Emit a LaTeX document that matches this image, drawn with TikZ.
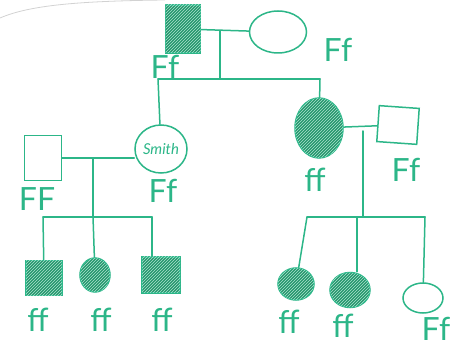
\documentclass[tikz,border=0pt]{standalone}
\usepackage{fontspec}
\setmainfont{Lato}
\usetikzlibrary{shapes.geometric,patterns}
\definecolor{pen}{RGB}{44,182,136}
\definecolor{penfill}{RGB}{38,150,108}
\tikzset{
  x=1pt, y=-1pt,
  line/.style={draw=pen, line width=1.5pt, line cap=round, line join=round},
  male/.style={rectangle, draw=pen, line width=1.5pt, inner sep=0pt},
  female/.style={ellipse, draw=pen, line width=1.5pt, inner sep=0pt},
  affected/.style={fill=penfill, postaction={pattern=north east lines, pattern color=pen!40}},
  geno/.style={text=pen, font=\fontsize{32}{32}\selectfont, inner sep=0pt},
}
\begin{document}
\begin{tikzpicture}
\useasboundingbox (0,0) rectangle (474,347);
% stray pencil arc
\draw[gray!35, line width=0.8pt] (0,18) .. controls (30,5) and (80,1) .. (165,0);

% Generation I
\node[male, affected, minimum width=35pt, minimum height=48pt] (s1) at (183,29) {};
\node[female, minimum width=57pt, minimum height=42pt] (c1) at (278,32) {};
\node[geno] (ls1) at (165,67) {Ff};
\node[geno] (lc1) at (338,50) {Ff};
\coordinate (m1) at (220,31);
\coordinate (d1) at (220,79);
\coordinate (j1L) at (158,79);
\coordinate (j1R) at (320,79);

% Generation II
\node[male, minimum width=37pt, minimum height=45pt] (h2) at (43,158) {};
\node[female, minimum width=52pt, minimum height=48pt, text=pen, font=\itshape\fontsize{15}{15}\selectfont] (smith) at (161,149) {Smith};
\node[female, affected, minimum width=48pt, minimum height=60pt] (a2) at (319,128) {};
\node[male, minimum width=40pt, minimum height=36pt, rotate=-4] (h3) at (398,125) {};
\node[geno] (lh2) at (37,199) {FF};
\node[geno] (lsmith) at (163,191) {Ff};
\node[geno] (la2) at (315,180) {ff};
\node[geno] (lh3) at (406,170) {Ff};
\coordinate (m2) at (93,158);
\coordinate (d2) at (93,217);
\coordinate (j2a) at (43,217);
\coordinate (j2b) at (93,217);
\coordinate (j2c) at (152,217);
\coordinate (m3) at (363,131);
\coordinate (d3) at (363,217);
\coordinate (j3a) at (307,217);
\coordinate (j3b) at (357,217);
\coordinate (j3c) at (425,217);

% Generation III
\node[male, affected, minimum width=36pt, minimum height=35pt] (k1) at (44,278) {};
\node[female, affected, minimum width=30pt, minimum height=34pt] (k2) at (95,275) {};
\node[male, affected, minimum width=38pt, minimum height=36pt] (k3) at (161,275) {};
\node[geno] (lk1) at (38,320) {ff};
\node[geno] (lk2) at (101,320) {ff};
\node[geno] (lk3) at (162,320) {ff};
\node[female, affected, minimum width=36pt, minimum height=32pt] (r1) at (296,284) {};
\node[female, affected, minimum width=40pt, minimum height=35pt] (r2) at (350,290) {};
\node[female, minimum width=40pt, minimum height=30pt] (r3) at (423,298) {};
\node[geno] (lr1) at (289,322) {ff};
\node[geno] (lr2) at (343,326) {ff};
\node[geno] (lr3) at (436,329) {Ff};

% connectors
\draw[line] (s1) -- (c1);
\draw[line] (m1) -- (d1);
\draw[line] (j1L) -- (j1R);
\draw[line] (j1L) -- (smith);
\draw[line] (j1R) -- (a2);

\draw[line] (h2.east) -- (h2.east -| smith.west);
\draw[line] (m2) -- (d2);
\draw[line] (j2a) -- (j2c);
\draw[line] (j2a) -- (k1);
\draw[line] (j2b) -- (k2);
\draw[line] (j2c) -- (j2c |- k3.north);

\draw[line] (a2) -- (h3);
\draw[line] (m3) -- (d3);
\draw[line] (j3a) -- (j3c);
\draw[line] (j3a) -- (r1);
\draw[line] (j3b) -- (j3b |- r2.north);
\draw[line] (j3c) -- (r3);
\end{tikzpicture}
\end{document}
